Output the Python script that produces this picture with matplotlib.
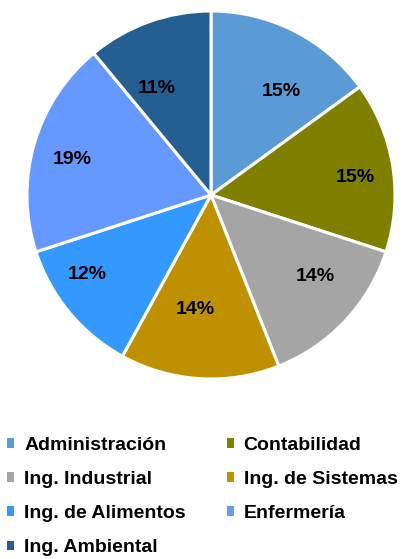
import matplotlib.pyplot as plt
import numpy as np
from matplotlib.patches import Patch

plt.rcParams['font.family'] = ['Liberation Sans', 'DejaVu Sans']

carreras = ["Administración", "Contabilidad", "Ing. Industrial", "Ing. de Sistemas",
            "Ing. de Alimentos", "Enfermería", "Ing. Ambiental"]
porcentajes = [15, 15, 14, 14, 12, 19, 11]
colores = ["#5B9BD5", "#7F7F00", "#A5A5A5", "#BF9000", "#3399FF", "#6699FF", "#255E91"]

# posicion de etiquetas (radio relativo, desfase angular en grados), estilo Excel
label_r = [0.68, 0.79, 0.72, 0.63, 0.80, 0.78, 0.65]
label_dang = [-7, -2, 5, -4, -7, 2, 7]

fig = plt.figure(figsize=(4.01, 5.59), dpi=100)
ax = fig.add_axes([27 / 401, 1 - 379 / 559, 368 / 401, 368 / 559])

wedges, _ = ax.pie(porcentajes, colors=colores, startangle=90, counterclock=False,
                   radius=1.0, wedgeprops=dict(edgecolor="white", linewidth=2.2))

for w, pct, r, da in zip(wedges, porcentajes, label_r, label_dang):
	mid = np.deg2rad((w.theta1 + w.theta2) / 2 + da)
	ax.text(r * np.cos(mid), r * np.sin(mid), f"{pct}%", ha="center", va="center",
			fontsize=14, fontweight="bold", color="black")

ax.set_xlim(-1, 1)
ax.set_ylim(-1, 1)
ax.set_aspect("auto")
ax.axis("off")

# orden por filas como en el original (legend llena por columnas)
orden = [0, 2, 4, 6, 1, 3, 5]
handles = [Patch(facecolor=colores[i], edgecolor="none") for i in orden]
names = [carreras[i] for i in orden]
fig.legend(handles, names, ncol=2, loc="upper left", bbox_to_anchor=(7 / 401, 1 - 437 / 559),
		   frameon=False, prop=dict(size=14, weight="bold"), handlelength=0.38,
		   handleheight=0.38, handletextpad=0.5, columnspacing=2.1, labelspacing=0.88,
		   borderpad=0, borderaxespad=0)

fig.savefig("out.png", dpi=100)
